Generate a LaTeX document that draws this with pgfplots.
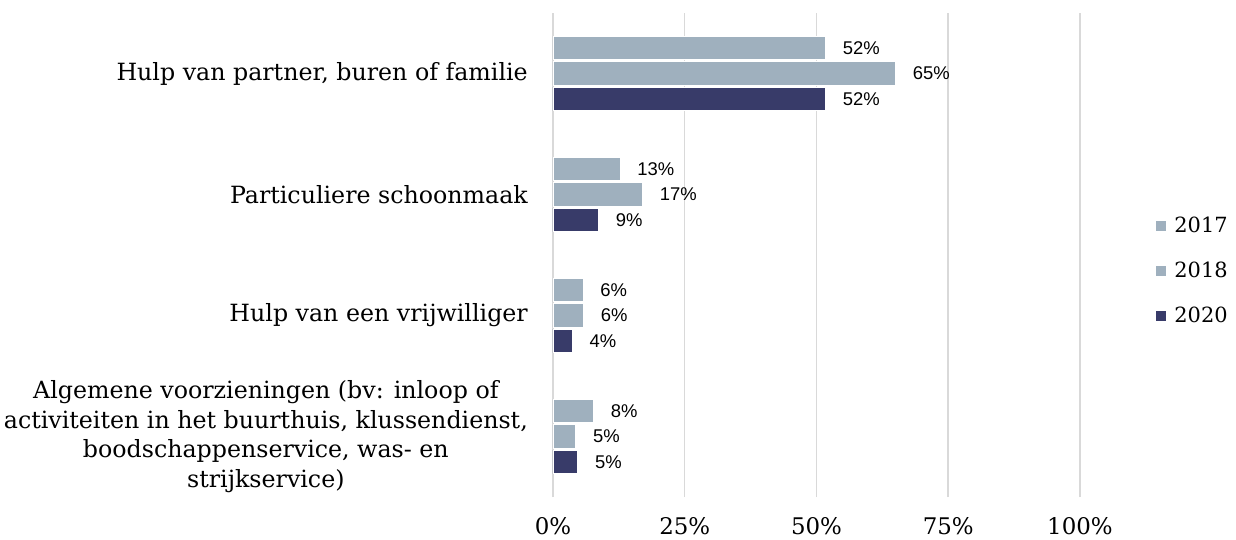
\documentclass[border=0pt]{standalone}
\usepackage{pgfplots}
\pgfplotsset{compat=1.18}
\usepackage{fontspec}
\setmainfont{DejaVu Serif}
\newfontfamily\labfont{Liberation Sans}
\definecolor{c17}{HTML}{9FB0BE}
\definecolor{c18}{HTML}{9FB0BE}
\definecolor{c20}{HTML}{383B69}
\definecolor{gridc}{HTML}{D9D9D9}
\begin{document}
\begin{tikzpicture}
\begin{axis}[
  at={(0,0)}, anchor=south west,
  scale only axis,
  width=527bp, height=484bp,
  xmin=0, xmax=100,
  ymin=-0.5, ymax=3.5,
  xbar, bar shift=0pt, bar width=0.194,
  axis line style={draw=none},
  major tick length=0pt,
  xmajorgrids, major grid style={gridc, line width=1.5bp},
  xtick={0,25,50,75,100},
  xticklabels={0\%,25\%,50\%,75\%,100\%},
  xticklabel style={font=\fontsize{23}{27}\selectfont, inner sep=0pt, yshift=-20bp},
  ytick={0,1,2,3},
  yticklabels={{Algemene voorzieningen (bv: inloop of\\activiteiten in het buurthuis, klussendienst,\\boodschappenservice, was- en\\strijkservice)},
    Hulp van een vrijwilliger, Particuliere schoonmaak, {Hulp van partner, buren of familie}},
  yticklabel style={font=\fontsize{23.8}{29.8}\selectfont, align=center, inner sep=0pt, xshift=-25bp},
  point meta=explicit symbolic,
  nodes near coords={\pgfplotspointmeta\%},
  every node near coord/.append style={font=\labfont\fontsize{18.5}{22}\selectfont, black, anchor=west, inner sep=0pt, xshift=17bp},
  legend style={at={(1.139,0.467)}, anchor=west, draw=none, fill=none,
    font=\fontsize{21}{25}\selectfont, row sep=24bp,
    /tikz/every odd column/.append style={column sep=6bp}},
  legend cell align=left,
  legend image code/.code={\fill[#1, draw=none] (0bp,-5bp) rectangle (10bp,5bp);},
  clip=false,
]
\addplot[fill=c17, draw=white, line width=0.75bp] coordinates {(51.7,3.21)[52] (12.7,2.21)[13] (5.7,1.21)[6] (7.7,0.21)[8]};
\addplot[fill=c18, draw=white, line width=0.75bp] coordinates {(65,3)[65] (17,2)[17] (5.8,1)[6] (4.3,0)[5]};
\addplot[fill=c20, draw=white, line width=0.75bp] coordinates {(51.7,2.79)[52] (8.65,1.79)[9] (3.66,0.79)[4] (4.7,-0.21)[5]};
\legend{2017,2018,2020}
\end{axis}
\path[use as bounding box] (-553bp,-43bp) rectangle (683bp,497bp);
\end{tikzpicture}
\end{document}
